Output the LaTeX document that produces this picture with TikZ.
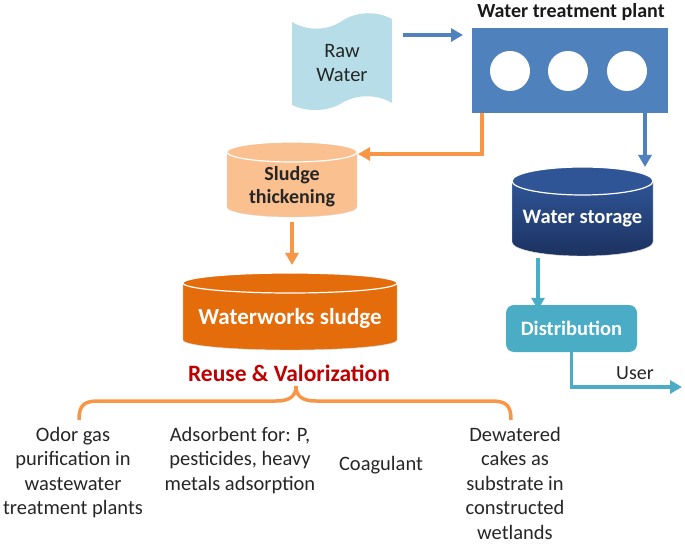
\documentclass[tikz,border=0pt]{standalone}
\usepackage{fontspec}
\setmainfont{Carlito}
\usetikzlibrary{arrows.meta}
\definecolor{plantblue}{HTML}{4F81BD}
\definecolor{rawblue}{HTML}{B7DEE8}
\definecolor{orangeline}{HTML}{F79646}
\definecolor{lightorange}{HTML}{FAC090}
\definecolor{darkorange}{HTML}{E46C0A}
\definecolor{navytop}{HTML}{2F5597}
\definecolor{navybot}{HTML}{1C3260}
\definecolor{cyanblue}{HTML}{4BACC6}
\definecolor{reusered}{HTML}{C00000}
% #1 left, #2 top, #3 right, #4 bottom, #5 y radius, #6 body style, #7 top style
\newcommand{\drumshape}[7]{%
  \path[#6] (#1,{#2+#5}) -- (#1,{#4-#5})
    arc[start angle=180,end angle=0,x radius={(#3-#1)/2},y radius=#5]
    -- (#3,{#2+#5}) -- cycle;
  \path[#7] ({(#1+#3)/2},{#2+#5}) ellipse[x radius={(#3-#1)/2},y radius=#5];
}
\begin{document}
\begin{tikzpicture}[x=1pt,y=-1pt,
  txt/.style={font=\fontsize{20.5}{24.5}\selectfont, align=center, inner sep=0pt, text=black!85},
  boldtxt/.style={font=\fontsize{20}{23}\selectfont\bfseries, align=center, inner sep=0pt},
  hitbox/.style={inner sep=0pt, outer sep=0pt},
  flow/.style={line width=3.6pt, -{Triangle[length=12pt,width=13pt]}},
  blueflow/.style={flow, draw=plantblue},
  orangeflow/.style={flow, draw=orangeline},
  cyanflow/.style={flow, draw=cyanblue},
  hole/.style={circle, fill=white, minimum size=40pt, inner sep=0pt}
]
\useasboundingbox (0,0) rectangle (685,545);

% Raw water (punched tape)
\fill[rawblue] (292,22) .. controls (307,31) and (327,31) .. (342,21)
  .. controls (357,11) and (377,11) .. (392,19) -- (392,103)
  .. controls (377,94) and (357,94) .. (342,103)
  .. controls (327,112) and (307,112) .. (292,105) -- cycle;
\node[txt, minimum width=100pt, minimum height=90pt] (raw) at (342,63) {Raw\\Water};

% Water treatment plant
\node[boldtxt, text=black!90] (plantlabel) at (571,12) {Water treatment plant};
\node[hitbox, fill=plantblue, minimum width=196pt, minimum height=85pt] (plant) at (570,70.5) {};
\node[hole] (c1) at (510,71) {};
\node[hole] (c2) at (568,71) {};
\node[hole] (c3) at (627,71) {};

% Sludge thickening
\drumshape{227}{142}{357}{217}{10}{fill=lightorange, draw=black!15}{fill=lightorange, draw=white, line width=1.2pt}
\node[hitbox, minimum width=130pt, minimum height=75pt] (thick) at (292,179.5) {};
\node[boldtxt, font=\fontsize{20}{23}\selectfont\bfseries, text=black!85] (thicklabel) at (292,187) {Sludge\\thickening};

% Waterworks sludge
\drumshape{183}{273}{397}{350}{10}{fill=darkorange, draw=black!15}{fill=darkorange, draw=white, line width=1.2pt}
\node[hitbox, minimum width=214pt, minimum height=77pt] (sludge) at (290,311.5) {};
\node[boldtxt, font=\fontsize{23}{26}\selectfont\bfseries, text=white] (sludgelabel) at (290,318) {Waterworks sludge};

% Water storage
\drumshape{512}{167}{653}{256}{14}{top color=navytop, bottom color=navybot, draw=black!15}{fill=navytop, draw=white, line width=1.2pt}
\node[hitbox, minimum width=141pt, minimum height=89pt] (storage) at (582.5,211.5) {};
\node[boldtxt, font=\fontsize{20.5}{23}\selectfont\bfseries, text=white] (storagelabel) at (582.5,219) {Water storage};

% Distribution
\node[boldtxt, font=\fontsize{20.5}{23}\selectfont\bfseries, fill=cyanblue, text=white, rounded corners=8pt, minimum width=131pt, minimum height=47pt] (dist) at (571.5,328.5) {Distribution};

% User
\coordinate (userend) at (682,387);
\node[txt, font=\fontsize{20}{23}\selectfont] (user) at (635,373) {User};

% Connectors
\draw[blueflow] ([xshift=11pt]raw.east |- 0,35) -- ([xshift=-9pt]plant.west |- 0,35);
\draw[orangeflow] ([xshift=-88pt]plant.south) |- ([xshift=1pt]thick.east |- 0,154);
\draw[blueflow] ([xshift=75pt]plant.south) -- ([xshift=75pt]plant.south |- storage.north);
\draw[orangeflow, shorten <=5pt, shorten >=8pt] (thick.south) -- (thick.south |- sludge.north);
\draw[cyanflow, shorten <=2pt] ([xshift=-44.5pt]storage.south) -- ([xshift=-33.5pt,yshift=-5pt]dist.north);
\draw[cyanflow] (dist.south) |- (userend);

% Reuse & Valorization
\node[boldtxt, font=\fontsize{23.5}{26}\selectfont\bfseries, text=reusered] (reuse) at (289,373) {Reuse \& Valorization};
\draw[orangeline, line width=3.5pt] (79,420) .. controls (79,405) and (84,401) .. (99,401) -- (276,401)
  .. controls (290,401) and (296,396) .. (296,386)
  .. controls (296,396) and (302,401) .. (316,401) -- (491,401)
  .. controls (506,401) and (511,405) .. (511,420);

% Bottom texts
\node[txt, anchor=north] (odor) at (73,427) {Odor gas\\purification in\\wastewater\\treatment plants};
\node[txt, anchor=north] (adsorb) at (240,427) {Adsorbent for: P,\\pesticides, heavy\\metals adsorption};
\node[txt] (coag) at (381,465) {Coagulant};
\node[txt, anchor=north] (dewater) at (515,427) {Dewatered\\cakes as\\substrate in\\constructed\\wetlands};
\end{tikzpicture}
\end{document}
